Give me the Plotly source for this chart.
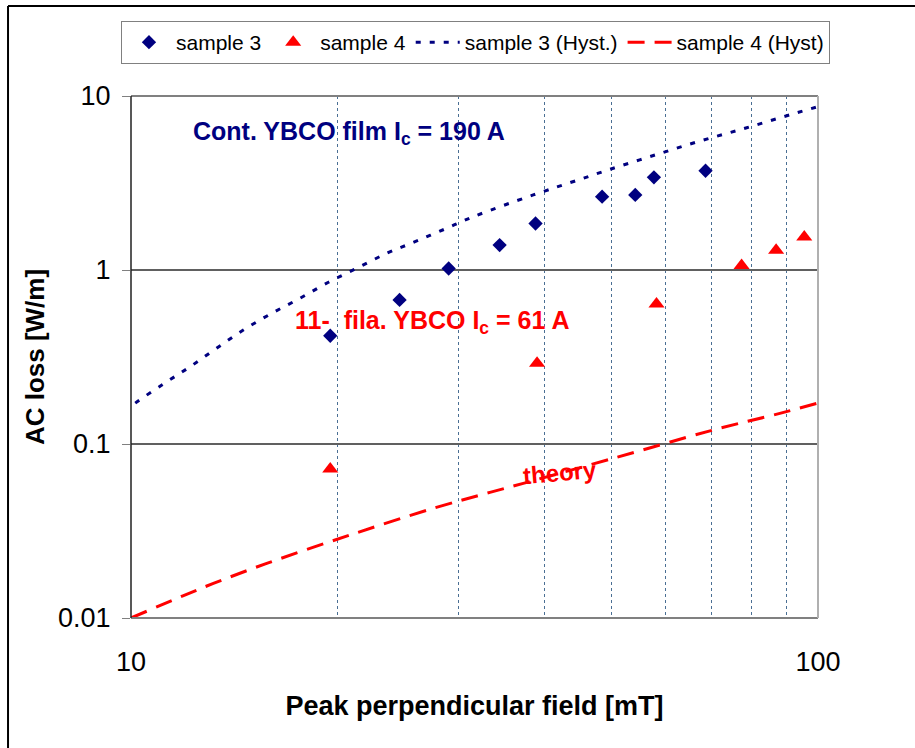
import plotly.graph_objects as go

# ---- data ----
FIELD_S3 = [19.5, 24.6, 29.0, 34.4, 38.8, 48.5, 54.2, 57.7, 68.6]
LOSS_S3 = [0.419, 0.673, 1.02, 1.39, 1.85, 2.64, 2.70, 3.41, 3.72]

FIELD_S4 = [19.5, 39.0, 58.2, 77.4, 86.9, 95.5]
LOSS_S4 = [0.0718, 0.291, 0.638, 1.06, 1.30, 1.55]

HYST3_FIELD = [9.78, 10.13, 11.14, 12.19, 13.32, 14.57, 16.03, 17.62, 19.38, 21.31, 23.56,
               25.91, 28.64, 31.50, 38.51, 45.05, 49.81, 57.9, 67.33, 78.76, 91.55, 101.25]
HYST3_LOSS = [0.153, 0.171, 0.221, 0.278, 0.355, 0.452, 0.564, 0.688, 0.850, 1.023, 1.247,
              1.454, 1.72, 2.025, 2.70, 3.32, 3.79, 4.58, 5.51, 6.57, 7.85, 8.80]

HYST4_FIELD = [10, 11.9, 13.18, 15.76, 20.84, 27.54, 33.3, 37.24, 50.4, 70.4, 88.0, 100]
HYST4_LOSS = [0.0100, 0.0134, 0.0158, 0.0206, 0.0300, 0.0427, 0.0527, 0.0594, 0.0828, 0.1204, 0.150, 0.172]

X_TICKS = [10, 100]
X_TICKTEXT = ["10", "100"]
X_MINOR = [20, 30, 40, 50, 60, 70, 80, 90]
Y_TICKS = [0.01, 0.1, 1, 10]
Y_TICKTEXT = ["0.01", "0.1", "1", "10"]

NAVY = "#000080"
RED = "#FF0000"
FONT = "Arial, Liberation Sans, sans-serif"

fig = go.Figure()
fig.add_trace(go.Scatter(x=FIELD_S3, y=LOSS_S3, mode="markers", name="sample 3",
                         marker=dict(symbol="diamond", size=11, color=NAVY)))
fig.add_trace(go.Scatter(x=FIELD_S4, y=LOSS_S4, mode="markers", name="sample 4",
                         marker=dict(symbol="triangle-up", size=14, color=RED)))
fig.add_trace(go.Scatter(x=HYST3_FIELD, y=HYST3_LOSS, mode="lines", name="sample 3 (Hyst.)",
                         line=dict(color=NAVY, width=3, dash="5px,9px", shape="spline")))
fig.add_trace(go.Scatter(x=HYST4_FIELD, y=HYST4_LOSS, mode="lines", name="sample 4 (Hyst)",
                         line=dict(color=RED, width=3, dash="17px,10px", shape="spline")))

fig.update_layout(
    width=915, height=748,
    margin=dict(l=131, r=97, t=96, b=130),
    paper_bgcolor="white", plot_bgcolor="white",
    font=dict(family=FONT, color="black"),
    showlegend=True,
    legend=dict(orientation="h", x=-0.0146, y=1.1437, xanchor="left", yanchor="top",
                bgcolor="white", bordercolor="#808080", borderwidth=1,
                font=dict(size=21, family=FONT, color="black"),
                itemwidth=44, tracegroupgap=0),
    xaxis=dict(type="log", range=[1, 2], tickvals=X_TICKS, ticktext=X_TICKTEXT,
               ticks="", showgrid=False,
               minor=dict(tickvals=X_MINOR, showgrid=True, gridcolor="#4a6f94",
                          griddash="dot", gridwidth=1, ticks=""),
               zeroline=False, showline=False,
               tickfont=dict(size=27, family=FONT, color="black"),
               ticklabelstandoff=25,
               title=dict(text="<b>Peak perpendicular field [mT]</b>",
                          font=dict(size=27, family=FONT, color="black"), standoff=20)),
    yaxis=dict(type="log", range=[-2, 1], tickvals=Y_TICKS, ticktext=Y_TICKTEXT,
               ticks="outside", ticklen=8, tickcolor="#808080",
               showgrid=True, gridcolor="#606060", gridwidth=1.5,
               zeroline=False, showline=False,
               tickfont=dict(size=27, family=FONT, color="black"),
               ticklabelstandoff=6,
               title=dict(text="<b>AC loss [W/m]</b>",
                          font=dict(size=26, family=FONT, color="black"), standoff=5)),
)

# plot frame
frame = [
    (0, 0, 1, 0, "#808080", 2),
    (0, 1, 1, 1, "#808080", 2),
    (0, 0, 0, 1, "#202020", 1.5),
    (1, 0, 1, 1, "#b0b0b0", 2),
]
for x0, y0, x1, y1, c, w in frame:
    fig.add_shape(type="line", xref="paper", yref="paper", x0=x0, y0=y0, x1=x1, y1=y1,
                  line=dict(color=c, width=w), layer="above")

# outer border (left and top only, as in the cropped original)
fig.add_shape(type="line", xref="paper", yref="paper", x0=-0.179, y0=1.1724, x1=-0.179, y1=-0.26,
              line=dict(color="black", width=2))
fig.add_shape(type="line", xref="paper", yref="paper", x0=-0.179, y0=1.1724, x1=1.15, y1=1.1724,
              line=dict(color="black", width=2))

fig.add_annotation(xref="paper", yref="paper", x=0.0873, y=0.929, xanchor="left", yanchor="middle",
                   text="<b>Cont. YBCO film I<sub>c</sub> = 190 A</b>", showarrow=False,
                   font=dict(size=25, family=FONT, color=NAVY))
fig.add_annotation(xref="paper", yref="paper", x=0.2354, y=0.5676, xanchor="left", yanchor="middle",
                   text="<b>11-  fila. YBCO I<sub>c</sub> = 61 A</b>", showarrow=False,
                   font=dict(size=25, family=FONT, color=RED))
fig.add_annotation(xref="paper", yref="paper", x=0.5662, y=0.2778, xanchor="left", yanchor="middle",
                   text="<b>theory</b>", showarrow=False, textangle=-5,
                   font=dict(size=24, family=FONT, color=RED))

fig.write_html("out.html")
